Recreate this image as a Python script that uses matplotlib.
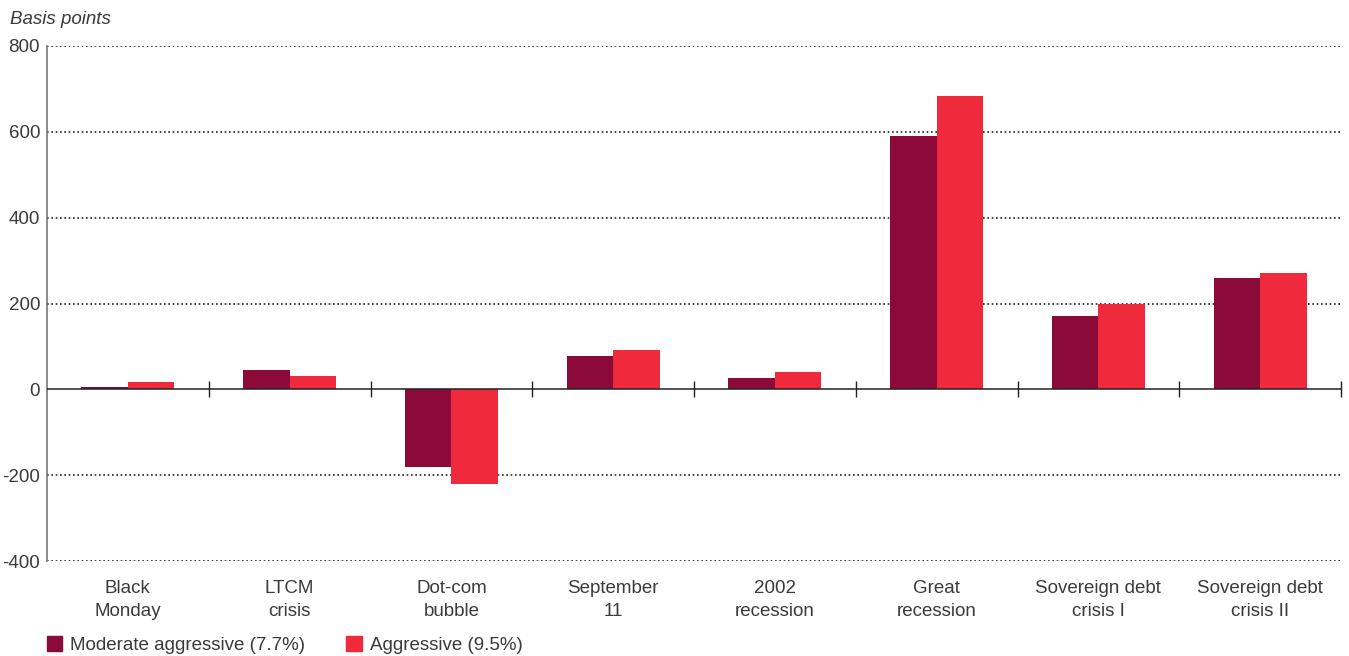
import matplotlib
matplotlib.use("Agg")
import matplotlib.pyplot as plt
from matplotlib.patches import Patch
import numpy as np

categories = ["Black\nMonday", "LTCM\ncrisis", "Dot-com\nbubble", "September\n11",
              "2002\nrecession", "Great\nrecession", "Sovereign debt\ncrisis I", "Sovereign debt\ncrisis II"]
moderate = [5, 45, -180, 78, 27, 591, 170, 260]
aggressive = [18, 32, -221, 92, 40, 683, 200, 270]
series_names = ["Moderate aggressive (7.7%)", "Aggressive (9.5%)"]
yticks = [-400, -200, 0, 200, 400, 600, 800]

c_mod = "#8B0A3A"
c_agg = "#EE2A3C"
txt = "#3a3a3a"
fs = 13.5

plt.rcParams["font.family"] = ["Liberation Sans", "DejaVu Sans"]

fig = plt.figure(figsize=(13.49, 6.56), dpi=100)
W, H = 1349, 656
ax = fig.add_axes([47 / W, 1 - 561 / H, (1341 - 47) / W, (561 - 46) / H])

x = np.arange(len(categories))
bw = 0.287
ax.bar(x - bw / 2, moderate, bw, color=c_mod, zorder=3)
ax.bar(x + bw / 2, aggressive, bw, color=c_agg, zorder=3)

ax.set_xlim(-0.5, len(categories) - 0.5)
ax.set_ylim(-400, 800)
ax.set_yticks(yticks)
ax.set_yticklabels([str(v) for v in yticks], fontsize=fs, color=txt)
ax.tick_params(axis="y", length=0, pad=5)
for v in yticks:
    if v != 0:
        ax.axhline(v, color="#222222", linestyle=(0, (1, 1.6)), linewidth=1.2, zorder=1)
ax.axhline(0, color="#222222", linewidth=1.1, zorder=4)

ax.set_xticks(x)
ax.set_xticklabels(categories, fontsize=fs, color=txt, linespacing=1.45)
ax.tick_params(axis="x", length=0, pad=14)

for s in ["top", "right", "bottom"]:
    ax.spines[s].set_visible(False)
ax.spines["left"].set_color("#777777")
ax.spines["left"].set_linewidth(1.2)

sec = ax.secondary_xaxis(400 / 1200)
sec.set_xticks(np.arange(len(categories)) + 0.5)
sec.set_xticklabels([])
sec.tick_params(axis="x", direction="inout", length=11, width=1.0, color="#222222")
sec.spines["bottom"].set_visible(False)
sec.spines["top"].set_visible(False)

fig.text(10 / W, 1 - 20 / H, "Basis points", fontsize=fs, style="italic",
         color=txt, ha="left", va="center")

handles = [Patch(color=c_mod, label=series_names[0]), Patch(color=c_agg, label=series_names[1])]
leg = fig.legend(handles=handles, loc="center left", bbox_to_anchor=(39 / W, 1 - 645 / H),
                 ncol=2, frameon=False, fontsize=fs, handlelength=0.85, handleheight=0.85,
                 handletextpad=0.4, columnspacing=2.2, borderaxespad=0)
for t in leg.get_texts():
    t.set_color(txt)

fig.savefig("out.png", dpi=100)
